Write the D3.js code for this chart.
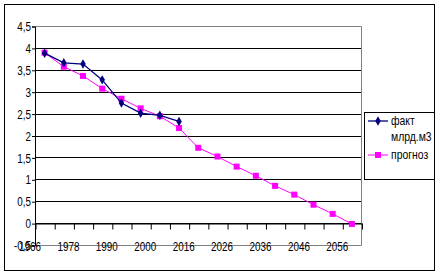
<!DOCTYPE html>
<html lang="ru">
<head>
    <meta charset="UTF-8">
    <title>Факт и прогноз</title>
    <script src="https://cdn.jsdelivr.net/npm/d3@7"></script>
    <style>
        body { margin: 0; background: #fff; }
        svg text { font-family: "Liberation Sans", Arial, sans-serif; font-size: 13px; }
    </style>
</head>
<body>
    <div id="chart"></div>
    <script>
        // подписи оси X (каждая вторая граница категорий)
        const tickLabels = ["1966", "1978", "1990", "2000", "2016", "2026", "2036", "2046", "2056"];

        // факт, млрд.м3 (первые 8 категорий)
        const fact = [3.88, 3.66, 3.63, 3.27, 2.74, 2.51, 2.46, 2.32];

        // прогноз (17 категорий)
        const forecast = [3.89, 3.57, 3.36, 3.07, 2.84, 2.62, 2.44, 2.17, 1.72, 1.52, 1.29, 1.08, 0.85, 0.65, 0.42, 0.21, -0.02];

        const yTicks = [-0.5, 0, 0.5, 1, 1.5, 2, 2.5, 3, 3.5, 4, 4.5];

        const W = 440, H = 275;
        const plot = { left: 35, right: 361.5, top: 26, bottom: 245 };
        const sx = 0.76; // сжатие шрифта по горизонтали, как в Excel

        const svg = d3.select("#chart").append("svg")
            .attr("width", W)
            .attr("height", H);

        // внешняя рамка
        svg.append("rect")
            .attr("x", 4.5).attr("y", 4.5)
            .attr("width", 430).attr("height", 266)
            .attr("fill", "#fff").attr("stroke", "#000");

        const nCat = forecast.length;
        const x = d3.scaleLinear().domain([0, nCat]).range([plot.left, plot.right]);
        const y = d3.scaleLinear().domain([-0.5, 4.5]).range([plot.bottom, plot.top]);

        // сетка
        svg.append("g")
            .selectAll("line")
            .data(yTicks.filter(d => d > -0.5 && d < 4.5))
            .enter().append("line")
            .attr("x1", plot.left).attr("x2", plot.right)
            .attr("y1", d => Math.round(y(d)) + 0.5)
            .attr("y2", d => Math.round(y(d)) + 0.5)
            .attr("stroke", "#000");

        // рамка области построения (серая)
        svg.append("path")
            .attr("d", `M${plot.left},${Math.round(y(4.5)) + 0.5}H${plot.right}V${Math.round(y(-0.5)) + 0.5}H${plot.left}`)
            .attr("fill", "none")
            .attr("stroke", "#808080");

        // ось Y
        const yAxis = svg.append("g")
            .attr("transform", `translate(${plot.left},0.5)`)
            .call(d3.axisLeft(y)
                .tickValues(yTicks)
                .tickSize(3)
                .tickPadding(2)
                .tickFormat(d => String(d).replace(".", ",")));
        yAxis.selectAll("text")
            .attr("x", -4 / sx)
            .attr("transform", `scale(${sx},1)`)
            .style("font-size", "13px")
            .attr("fill", "#000");
        yAxis.select(".domain").attr("stroke", "#000");

        // ось X на уровне 0
        const xAxis = svg.append("g")
            .attr("transform", `translate(0.5,${Math.round(y(0)) + 0.5})`)
            .call(d3.axisBottom(x)
                .tickValues(d3.range(nCat + 1))
                .tickSize(6)
                .tickSizeOuter(0)
                .tickFormat(i => (i % 2 === 0 && i / 2 < tickLabels.length) ? tickLabels[i / 2] : ""));
        xAxis.selectAll("text")
            .attr("y", 23)
            .attr("dy", "0.35em")
            .attr("dx", -6 / sx)
            .attr("transform", `scale(${sx},1)`)
            .style("font-size", "13px")
            .attr("fill", "#000");

        const cx = i => x(i + 0.5);

        // прогноз
        svg.append("path")
            .datum(forecast)
            .attr("fill", "none")
            .attr("stroke", "#ff00ff")
            .attr("stroke-width", 1)
            .attr("d", d3.line().x((d, i) => cx(i)).y(d => y(d)));

        svg.selectAll(".sq")
            .data(forecast)
            .enter().append("rect")
            .attr("class", "sq")
            .attr("x", (d, i) => cx(i) - 3)
            .attr("y", d => y(d) - 3)
            .attr("width", 6).attr("height", 6)
            .attr("fill", "#ff00ff");

        // факт
        svg.append("path")
            .datum(fact)
            .attr("fill", "none")
            .attr("stroke", "#000080")
            .attr("stroke-width", 1.3)
            .attr("d", d3.line().x((d, i) => cx(i)).y(d => y(d)));

        const diamond = d3.symbol().type(d3.symbolDiamond).size(26);
        svg.selectAll(".dm")
            .data(fact)
            .enter().append("path")
            .attr("class", "dm")
            .attr("transform", (d, i) => `translate(${cx(i)},${y(d)})`)
            .attr("d", diamond)
            .attr("fill", "#000080");

        // легенда
        const lg = svg.append("g");
        lg.append("rect")
            .attr("x", 364.5).attr("y", 112.5)
            .attr("width", 70).attr("height", 67)
            .attr("fill", "#fff").attr("stroke", "#000");

        const legendText = (tx, ty, s) => lg.append("text")
            .attr("transform", `translate(${tx},${ty}) scale(0.8,1)`)
            .attr("fill", "#000")
            .text(s);

        lg.append("line")
            .attr("x1", 368).attr("x2", 388).attr("y1", 121).attr("y2", 121)
            .attr("stroke", "#000080").attr("stroke-width", 1.3);
        lg.append("path")
            .attr("transform", "translate(378,121)")
            .attr("d", diamond)
            .attr("fill", "#000080");
        legendText(391, 125, "факт");
        legendText(391, 141, "млрд.м3");

        lg.append("line")
            .attr("x1", 368).attr("x2", 388).attr("y1", 155).attr("y2", 155)
            .attr("stroke", "#ff00ff");
        lg.append("rect")
            .attr("x", 375).attr("y", 152).attr("width", 6).attr("height", 6)
            .attr("fill", "#ff00ff");
        legendText(391, 159, "прогноз");
    </script>
</body>
</html>
